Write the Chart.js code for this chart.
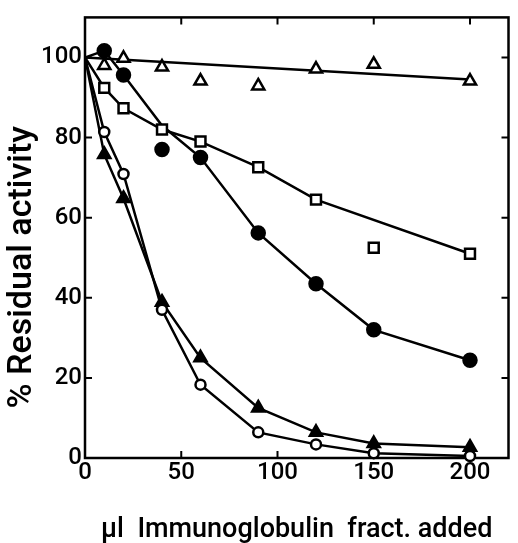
<!DOCTYPE html>
<html>
<head>
<meta charset="utf-8">
<script src="https://cdn.jsdelivr.net/npm/chart.js@4/dist/chart.umd.min.js"></script>
<style>
  html, body { margin: 0; padding: 0; background: #fff; }
  #wrap { width: 518px; height: 543px; }
</style>
</head>
<body>
<div id="wrap"><canvas id="c"></canvas></div>
<script>
const doses = [10, 20, 40, 60, 90, 120, 150, 200];
const openTriangle = [98, 99.8, 97.6, 94.1, 92.9, 97.1, 98.3, 94.1];
const filledCircle = [101.7, 95.6, 77, 75, 56.2, 43.5, 32, 24.4];
const openSquare = [92.4, 87.3, 82, 79, 72.6, 64.5, 52.5, 51];
const openCircle = [81.4, 70.9, 37, 18.3, 6.4, 3.4, 1.2, 0.5];
const filledTriangle = [75.8, 64.8, 38.9, 25, 12.5, 6.4, 3.6, 2.7];

// hand drawn curves through the points
const triangleFitX = [0, 200];
const triangleFitY = [100, 94.5];
const circleCurveX = [0, 10, 20, 40, 60, 90, 120, 150, 200];
const circleCurveY = [100, 101.7, 95.6, 83, 75, 56.2, 43.5, 32, 24.4];
const squareCurveX = [0, 10, 20, 40, 60, 90, 120, 200];
const squareCurveY = [100, 92.4, 87.3, 82, 79, 72.6, 64.5, 51];
const openCircleCurveX = [0, 10, 20, 40, 60, 90, 120, 150, 200];
const openCircleCurveY = [100, 81.4, 70.9, 37, 18.3, 6.4, 3.4, 1.2, 0.5];
const filledTriCurveX = [0, 10, 20, 40, 60, 90, 120, 150, 200];
const filledTriCurveY = [100, 75.8, 64.8, 38.9, 25, 12.5, 6.4, 3.6, 2.7];

const xTicks = [0, 50, 100, 150, 200];
const yTicks = [0, 20, 40, 60, 80, 100];

const FONT = 'Roboto';

function pts(xs, ys) {
  return xs.map((x, i) => ({ x: x, y: ys[i] }));
}

function curve(xs, ys) {
  return {
    data: pts(xs, ys),
    showLine: true,
    borderColor: '#000',
    borderWidth: 2.5,
    pointRadius: 0,
    tension: 0,
    order: 2
  };
}

function markers(ys, style, filled, r) {
  return {
    data: pts(doses, ys),
    showLine: false,
    pointStyle: style,
    pointRadius: r,
    pointBorderWidth: 2.5,
    pointBorderColor: '#000',
    pointBackgroundColor: filled ? '#000' : '#fff',
    clip: false,
    order: 1
  };
}

// frame round the plot with inward ticks on all four sides
const framePlugin = {
  id: 'frame',
  beforeDatasetsDraw(chart) {
    const { ctx, chartArea: a, scales: { x, y } } = chart;
    const tl = 7;
    ctx.save();
    ctx.strokeStyle = '#000';
    ctx.lineWidth = 2.5;
    ctx.strokeRect(a.left, a.top, a.right - a.left, a.bottom - a.top);
    ctx.lineWidth = 2;
    ctx.beginPath();
    xTicks.forEach(v => {
      if (v === 0) return;
      const px = x.getPixelForValue(v);
      ctx.moveTo(px, a.bottom); ctx.lineTo(px, a.bottom - tl);
      ctx.moveTo(px, a.top); ctx.lineTo(px, a.top + tl);
    });
    yTicks.forEach(v => {
      if (v === 0) return;
      const py = y.getPixelForValue(v);
      ctx.moveTo(a.left, py); ctx.lineTo(a.left + tl, py);
      ctx.moveTo(a.right, py); ctx.lineTo(a.right - tl, py);
    });
    ctx.stroke();
    ctx.restore();
  }
};

new Chart(document.getElementById('c'), {
  type: 'scatter',
  data: {
    datasets: [
      curve(triangleFitX, triangleFitY),
      curve(circleCurveX, circleCurveY),
      curve(squareCurveX, squareCurveY),
      curve(openCircleCurveX, openCircleCurveY),
      curve(filledTriCurveX, filledTriCurveY),
      markers(openTriangle, 'triangle', false, 7),
      markers(filledCircle, 'circle', true, 6.5),
      markers(openSquare, 'rect', false, 7),
      markers(openCircle, 'circle', false, 5),
      markers(filledTriangle, 'triangle', true, 7)
    ]
  },
  options: {
    responsive: true,
    maintainAspectRatio: false,
    animation: false,
    layout: { padding: { top: 10, right: 1, left: 0, bottom: 0 } },
    plugins: { legend: { display: false }, tooltip: { enabled: false } },
    scales: {
      x: {
        type: 'linear',
        min: 0,
        max: 220,
        grid: { display: false, drawTicks: false },
        border: { display: false },
        afterBuildTicks: s => { s.ticks = xTicks.map(v => ({ value: v })); },
        afterFit: s => { s.height = 85; },
        ticks: { color: '#000', padding: 1, maxRotation: 0, font: { family: FONT, size: 24, weight: 500 } },
        title: {
          display: true,
          text: 'µl  Immunoglobulin  fract. added',
          color: '#000',
          font: { family: FONT, size: 27, weight: 500 },
          padding: { top: 0, bottom: -3 }
        }
      },
      y: {
        type: 'linear',
        min: 0,
        max: 110,
        grid: { display: false, drawTicks: false },
        border: { display: false },
        afterBuildTicks: s => { s.ticks = yTicks.map(v => ({ value: v })); },
        afterFit: s => { s.width = 85; },
        ticks: { color: '#000', padding: 3, font: { family: FONT, size: 24, weight: 500 } },
        title: {
          display: true,
          text: '% Residual activity       ',
          color: '#000',
          font: { family: FONT, size: 34, weight: 500 },
          padding: { top: 2, bottom: 0 }
        }
      }
    }
  },
  plugins: [framePlugin]
});
</script>
</body>
</html>
